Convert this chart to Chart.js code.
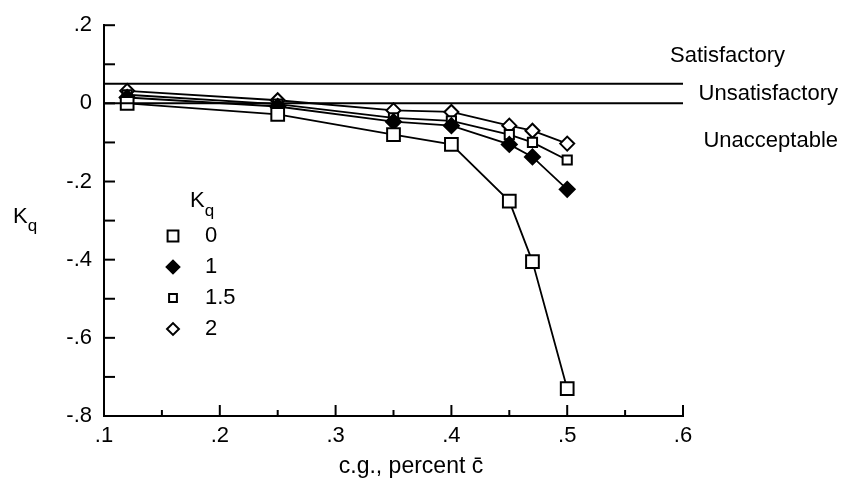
<!DOCTYPE html>
<html lang="en">
<head>
  <meta charset="UTF-8">
  <title>Kq versus c.g.</title>
  <script src="https://cdn.jsdelivr.net/npm/chart.js"></script>
  <style>
    html, body { margin: 0; padding: 0; background: #fff; }
    #wrap { position: relative; width: 848px; height: 489px; }
  </style>
</head>
<body>
  <div id="wrap"><canvas id="kqChart"></canvas></div>

  <script>
    // c.g. positions (fraction of mean chord)
    const cgValues = [0.12, 0.25, 0.35, 0.40, 0.45, 0.47, 0.50];

    // Kq, one array per pitch-rate gain
    const kqGain0 = [0.000, -0.028, -0.080, -0.105, -0.250, -0.405, -0.730];
    const kqGain1 = [0.015, -0.008, -0.047, -0.057, -0.105, -0.137, -0.220];
    const kqGain15 = [0.022, -0.002, -0.037, -0.045, -0.080, -0.100, -0.145];
    const kqGain2 = [0.032, 0.008, -0.018, -0.022, -0.057, -0.070, -0.103];

    const gainLabels = ["0", "1", "1.5", "2"];

    // boundary lines and the region names beside them
    const boundaryValues = [0.05, 0];
    const regionNames = ["Satisfactory", "Unsatisfactory", "Unacceptable"];

    const FONT = '"Liberation Sans", Arial, sans-serif';

    const markerStyles = [
      { pointStyle: "rect", radius: 9, fill: "#fff" },
      { pointStyle: "rectRot", radius: 7.5, fill: "#000" },
      { pointStyle: "rect", radius: 6.5, fill: "#fff" },
      { pointStyle: "rectRot", radius: 7, fill: "#fff" }
    ];

    function toPoints(ys) {
      return cgValues.map((x, i) => ({ x: x, y: ys[i] }));
    }

    function fmt(v) {
      if (Math.abs(v) < 1e-9) return "0";
      return v.toFixed(1).replace("0.", ".");
    }

    function isMultiple(v, step) {
      const r = v / step;
      return Math.abs(r - Math.round(r)) < 1e-6;
    }

    const seriesData = [kqGain0, kqGain1, kqGain15, kqGain2];

    const datasets = seriesData.map((ys, i) => ({
      label: gainLabels[i],
      data: toPoints(ys),
      showLine: true,
      borderColor: "#000",
      borderWidth: 1.8,
      pointStyle: markerStyles[i].pointStyle,
      pointRadius: markerStyles[i].radius,
      pointBackgroundColor: markerStyles[i].fill,
      pointBorderColor: "#000",
      pointBorderWidth: 2
    }));

    boundaryValues.forEach(v => {
      datasets.unshift({
        label: "boundary " + v,
        data: [{ x: 0.1, y: v }, { x: 0.6, y: v }],
        showLine: true,
        borderColor: "#000",
        borderWidth: 2,
        pointRadius: 0
      });
    });

    // inward ticks, axis titles, legend and region names
    const decorPlugin = {
      id: "decor",
      afterDraw(chart) {
        const ctx = chart.ctx;
        const xs = chart.scales.x;
        const ys = chart.scales.y;
        const area = chart.chartArea;
        ctx.save();
        ctx.strokeStyle = "#000";
        ctx.lineWidth = 2;

        ys.ticks.forEach(t => {
          const py = ys.getPixelForValue(t.value);
          ctx.beginPath();
          ctx.moveTo(area.left, py);
          ctx.lineTo(area.left + 11, py);
          ctx.stroke();
        });
        xs.ticks.forEach(t => {
          const px = xs.getPixelForValue(t.value);
          const len = isMultiple(t.value, 0.1) ? 11 : 6;
          ctx.beginPath();
          ctx.moveTo(px, area.bottom);
          ctx.lineTo(px, area.bottom - len);
          ctx.stroke();
        });

        ctx.fillStyle = "#000";
        ctx.textBaseline = "middle";
        ctx.textAlign = "left";

        // y axis title K with subscript q
        const midY = (area.top + area.bottom) / 2;
        ctx.font = "22px " + FONT;
        ctx.fillText("K", 13, midY - 4);
        const kw = ctx.measureText("K").width;
        ctx.font = "17px " + FONT;
        ctx.fillText("q", 13 + kw, midY + 6);

        // x axis title, sits a bit right of the plot centre in the original
        ctx.textAlign = "center";
        ctx.font = "23px " + FONT;
        ctx.fillText("c.g., percent c\u0304", 411, 467);
        ctx.textAlign = "left";

        // legend inside plot
        const legX = 173;
        const legTitleY = 205;
        ctx.font = "22px " + FONT;
        ctx.fillText("K", 190, legTitleY - 4);
        ctx.font = "17px " + FONT;
        ctx.fillText("q", 190 + kw, legTitleY + 6);

        gainLabels.forEach((lab, i) => {
          const ly = legTitleY + 31 * (i + 1);
          const m = markerStyles[i];
          ctx.fillStyle = m.fill;
          ctx.strokeStyle = "#000";
          ctx.lineWidth = 2;
          Chart.helpers.drawPoint(ctx, {
            pointStyle: m.pointStyle,
            radius: m.radius * 0.85,
            borderWidth: 2,
            rotation: 0
          }, legX, ly);
          ctx.fillStyle = "#000";
          ctx.font = "22px " + FONT;
          ctx.fillText(lab, 205, ly);
        });

        // region names beside boundary lines
        const yTop = ys.getPixelForValue(boundaryValues[0]);
        const yZero = ys.getPixelForValue(boundaryValues[1]);
        ctx.font = "22px " + FONT;
        ctx.textAlign = "right";
        ctx.fillText(regionNames[0], 785, yTop - 28);
        ctx.fillText(regionNames[1], 838, (yTop + yZero) / 2);
        ctx.fillText(regionNames[2], 838, yZero + 38);
        ctx.restore();
      }
    };

    new Chart(document.getElementById("kqChart"), {
      type: "scatter",
      data: { datasets: datasets },
      options: {
        responsive: true,
        maintainAspectRatio: false,
        animation: false,
        layout: { padding: { left: 0, right: 165, top: 16, bottom: 0 } },
        plugins: {
          legend: { display: false },
          tooltip: { enabled: false }
        },
        scales: {
          x: {
            type: "linear",
            min: 0.1,
            max: 0.6,
            afterFit: s => { s.height = 73; },
            grid: { display: false, drawTicks: false },
            border: { display: true, color: "#000", width: 2 },
            ticks: {
              stepSize: 0.05,
              autoSkip: false,
              maxRotation: 0,
              padding: 7,
              color: "#000",
              font: { family: FONT, size: 22 },
              callback: v => isMultiple(v, 0.1) ? fmt(v) : ""
            }
          },
          y: {
            type: "linear",
            min: -0.8,
            max: 0.2,
            afterFit: s => { s.width = 104; },
            grid: { display: false, drawTicks: false },
            border: { display: true, color: "#000", width: 2 },
            ticks: {
              stepSize: 0.1,
              autoSkip: false,
              padding: 12,
              color: "#000",
              font: { family: FONT, size: 22 },
              callback: v => isMultiple(v, 0.2) ? fmt(v) : ""
            }
          }
        }
      },
      plugins: [decorPlugin]
    });
  </script>
</body>
</html>
